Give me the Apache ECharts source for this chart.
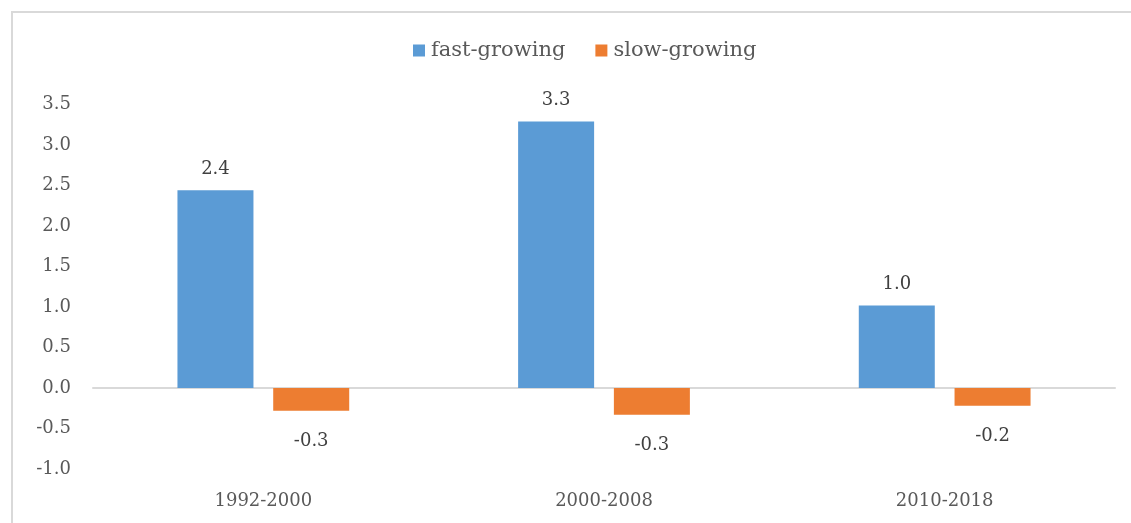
<!DOCTYPE html>
<html>
<head>
<meta charset="utf-8">
<script src="https://cdn.jsdelivr.net/npm/echarts@6/dist/echarts.min.js"></script>
<style>
  html, body { margin: 0; padding: 0; background: #fff; overflow: hidden; }
  #chart { width: 1131px; height: 523px; }
</style>
</head>
<body>
<div id="chart"></div>
<script>
var categories = ['1992-2000', '2000-2008', '2010-2018'];
var fastGrowing = [2.44, 3.29, 1.02];
var slowGrowing = [-0.28, -0.33, -0.22];
var seriesNames = ['fast-growing', 'slow-growing'];

var font = 'DejaVu Serif';

var chart = echarts.init(document.getElementById('chart'));
chart.setOption({
  animation: false,
  textStyle: { fontFamily: font },
  graphic: [{
    type: 'line',
    shape: { x1: 12, y1: 11, x2: 12, y2: 530 },
    style: { stroke: '#d9d9d9', lineWidth: 2 },
    silent: true
  }, {
    type: 'line',
    shape: { x1: 11, y1: 12, x2: 1131, y2: 12 },
    style: { stroke: '#d9d9d9', lineWidth: 2 },
    silent: true
  }],
  legend: {
    top: 35,
    left: 408,
    data: seriesNames,
    itemWidth: 12,
    itemHeight: 12,
    itemGap: 30,
    icon: 'rect',
    textStyle: { fontFamily: font, fontSize: 21, color: '#595959', padding: [0, 0, 0, 1] }
  },
  grid: {
    left: 93,
    right: 16,
    top: 104.5,
    bottom: 54,
    containLabel: false
  },
  xAxis: {
    type: 'category',
    data: categories,
    axisLine: { onZero: true, lineStyle: { color: '#d9d9d9', width: 2 } },
    axisTick: { show: false },
    axisLabel: {
      fontFamily: font, fontSize: 18, color: '#595959',
      margin: 23
    }
  },
  yAxis: {
    type: 'value',
    min: -1,
    max: 3.5,
    interval: 0.5,
    splitLine: { show: false },
    axisLine: { show: false },
    axisTick: { show: false },
    axisLabel: {
      fontFamily: font, fontSize: 18, color: '#595959', margin: 22,
      formatter: function (v) { return v.toFixed(1); }
    }
  },
  series: [{
    name: seriesNames[0],
    type: 'bar',
    data: fastGrowing,
    barWidth: 76,
    barGap: '26%',
    itemStyle: { color: '#5b9bd5' },
    label: {
      show: true, position: 'top', distance: 12,
      fontFamily: font, fontSize: 18, color: '#404040',
      formatter: function (p) { return p.value.toFixed(1); }
    }
  }, {
    name: seriesNames[1],
    type: 'bar',
    data: slowGrowing,
    barWidth: 76,
    itemStyle: { color: '#ed7d31' },
    label: {
      show: true, position: 'bottom', distance: 22,
      fontFamily: font, fontSize: 18, color: '#404040',
      formatter: function (p) { return p.value.toFixed(1); }
    }
  }]
});
</script>
</body>
</html>
